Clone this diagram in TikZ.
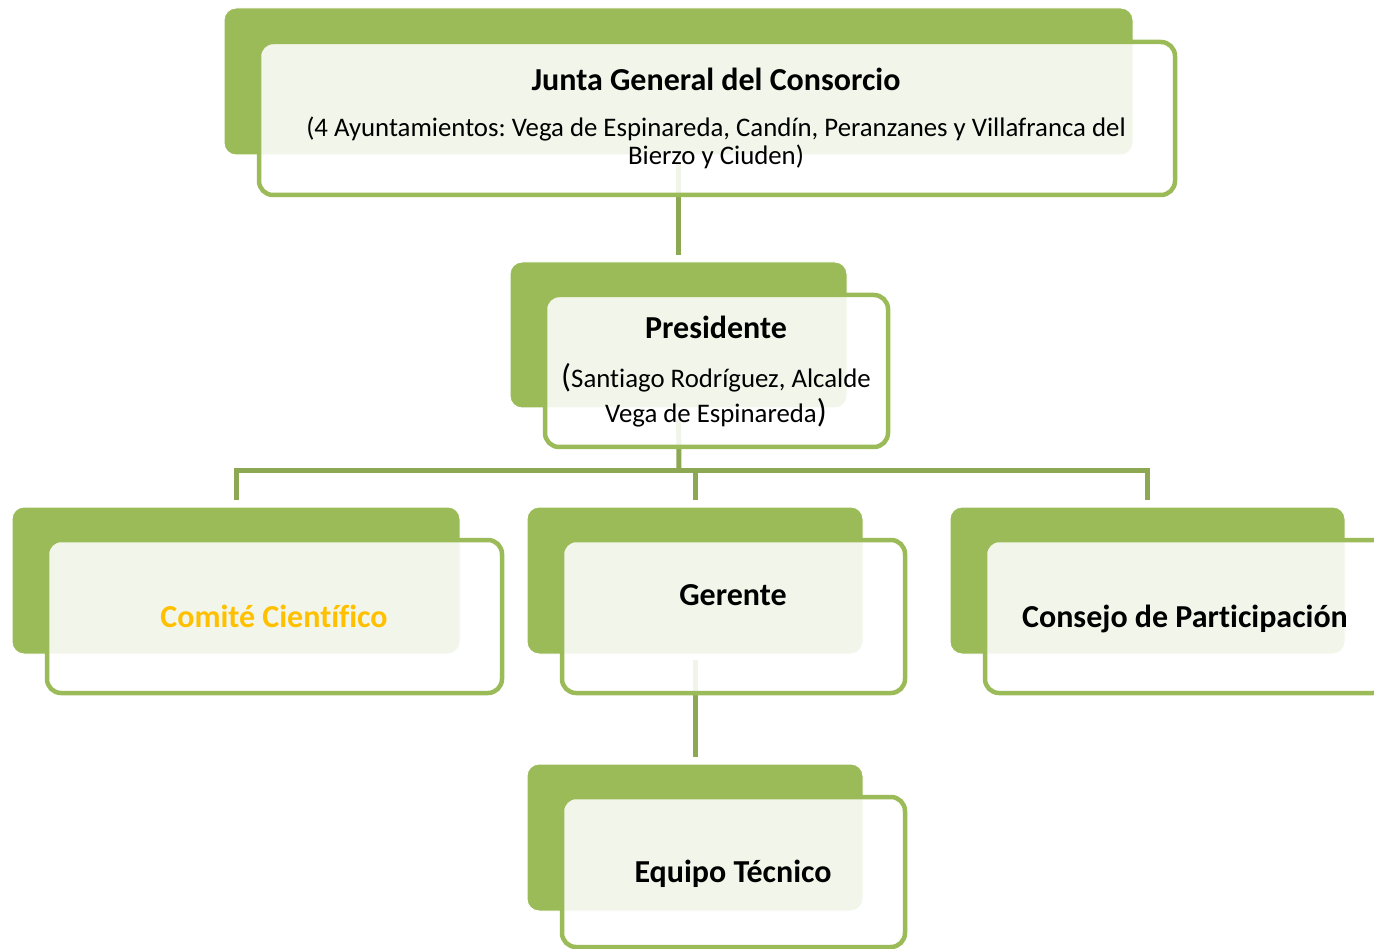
\documentclass[tikz,border=0pt]{standalone}
\usepackage{fontspec}
\setmainfont{Carlito}[Ligatures={NoCommon}]
\frenchspacing
\usetikzlibrary{calc}
\definecolor{boxgreen}{RGB}{155,187,89}
\definecolor{conngreen}{RGB}{141,168,82}
\definecolor{gold}{RGB}{255,192,0}
\begin{document}
\begin{tikzpicture}[x=1pt,y=-1pt,
  backbox/.style={fill=boxgreen, draw=white, line width=1pt, rounded corners=12pt, outer sep=0pt, inner sep=0pt, anchor=north west},
  frontbox/.style={draw=boxgreen, line width=4.5pt, fill=white, fill opacity=0.88, text opacity=1, rounded corners=14pt, outer sep=0pt, inner sep=0pt, anchor=north west},
  conn/.style={draw=conngreen, line width=5pt},
  ttl/.style={font=\fontsize{32}{38}\selectfont\bfseries, anchor=base, inner sep=0pt},
  sub/.style={font=\fontsize{26.8}{30}\selectfont, anchor=base, inner sep=0pt}
]
\useasboundingbox (0,0) rectangle (1374,949);

% back boxes
\node[backbox, minimum width=909pt, minimum height=147pt] (junta-b) at (224,8) {};
\node[backbox, minimum width=337pt, minimum height=146pt] (pres-b) at (510,262) {};
\node[backbox, minimum width=448pt, minimum height=147pt] (comite-b) at (12,507) {};
\node[backbox, minimum width=336pt, minimum height=147pt] (gerente-b) at (527,507) {};
\node[backbox, minimum width=395pt, minimum height=147pt] (consejo-b) at (950,507) {};
\node[backbox, minimum width=336pt, minimum height=147pt] (equipo-b) at (527,764) {};

% connectors
\coordinate (bus) at (679,471);
\draw[conn, shorten <=8pt, shorten >=7pt] (junta-b.south) -- (pres-b.north);
\draw[conn, shorten <=12pt] (pres-b.south) -- (bus);
\draw[conn] ($(comite-b.north)+(0,-7)$) |- (bus) -| ($(consejo-b.north)+(0,-7)$);
\draw[conn, shorten >=7pt] (gerente-b.north |- bus) -- (gerente-b.north);
\draw[conn, shorten <=6pt, shorten >=7pt] (gerente-b.south) -- (equipo-b.north);

% front boxes
\node[frontbox, minimum width=916pt, minimum height=153pt] (junta-f) at (259,42) {};
\node[frontbox, minimum width=343pt, minimum height=152pt] (pres-f) at (545,295) {};
\node[frontbox, minimum width=455pt, minimum height=153pt] (comite-f) at (47,540) {};
\node[frontbox, minimum width=343pt, minimum height=153pt] (gerente-f) at (562,540) {};
\node[frontbox, minimum width=402pt, minimum height=153pt] (consejo-f) at (985,540) {};
\node[frontbox, minimum width=343pt, minimum height=150pt] (equipo-f) at (562,797) {};

% texts
\node[ttl] (junta-t) at (716,91) {Junta General del Consorcio};
\node[sub] (junta-s1) at (716,137) {(4 Ayuntamientos: Vega de Espinareda, Candín, Peranzanes y Villafranca del};
\node[sub] (junta-s2) at (716,165) {Bierzo y Ciuden)};
\node[ttl] (pres-t) at (716,339) {Presidente};
\node[sub] (pres-s1) at (716,388) {{\fontsize{33}{33}\selectfont(}Santiago Rodríguez, Alcalde};
\node[sub] (pres-s2) at (716,423) {Vega de Espinareda{\fontsize{33}{33}\selectfont)}};
\node[ttl, text=gold] (comite-t) at (274,627) {Comité Científico};
\node[ttl] (gerente-t) at (733,605) {Gerente};
\node[ttl] (consejo-t) at (1185,627) {Consejo de Participación};
\node[ttl] (equipo-t) at (733,882) {Equipo Técnico};
\end{tikzpicture}
\end{document}
